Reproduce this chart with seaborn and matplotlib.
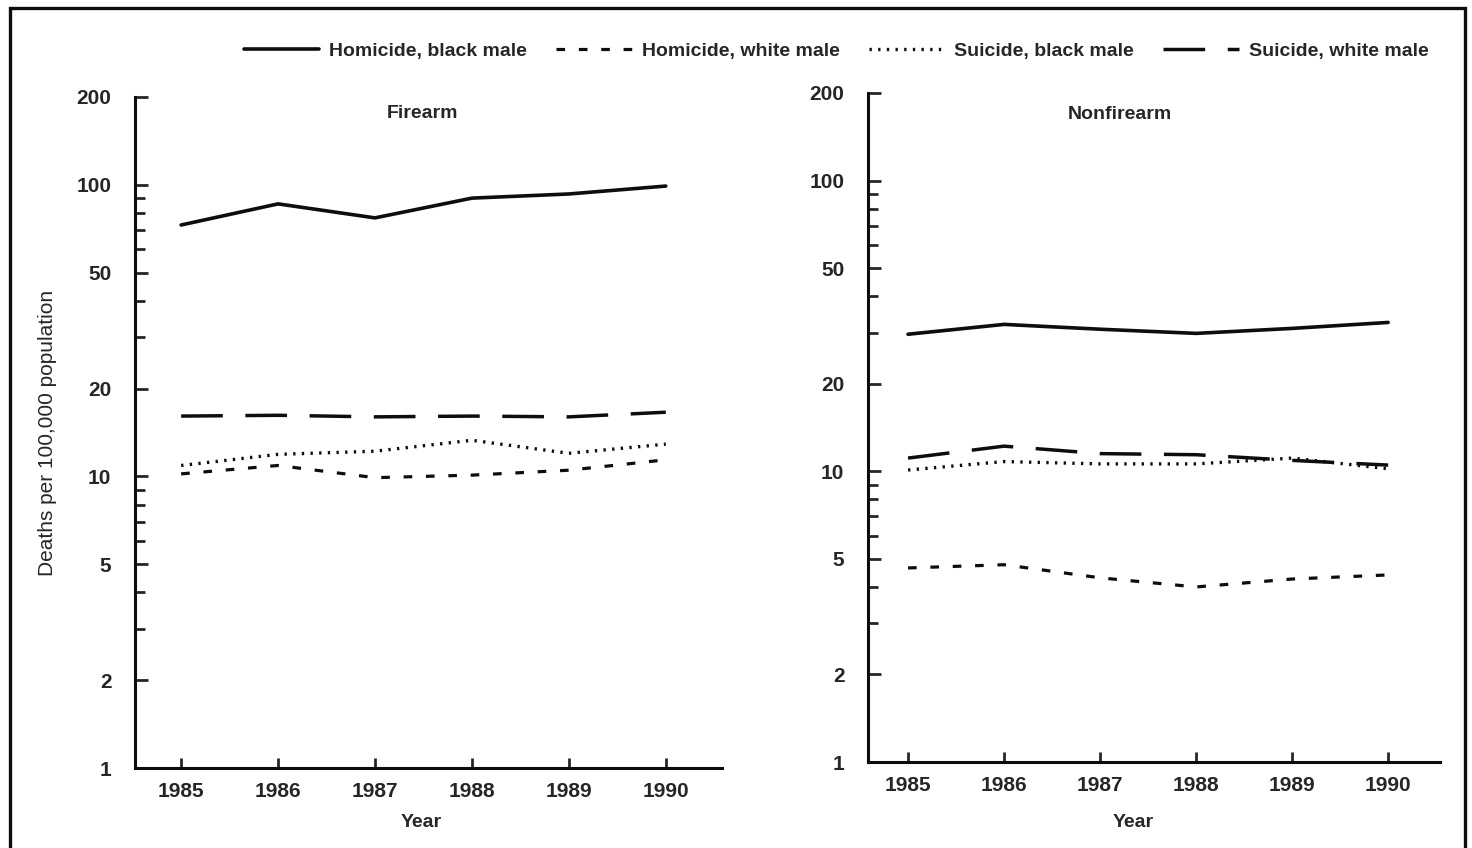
import pandas as pd
import seaborn as sns
import matplotlib.pyplot as plt
from matplotlib.patches import Rectangle
from matplotlib.ticker import FixedLocator, NullFormatter

# Data (deaths per 100,000 population, log scale)
years = [1985, 1986, 1987, 1988, 1989, 1990]
seriesNames = ['Homicide, black male', 'Homicide, white male', 'Suicide, black male', 'Suicide, white male']
# Firearm panel
fireHomBlack = [72.8, 86.0, 77.0, 90.0, 93.0, 99.0]
fireHomWhite = [10.2, 10.9, 9.9, 10.1, 10.5, 11.4]
fireSuiBlack = [10.9, 11.9, 12.2, 13.3, 12.0, 12.9]
fireSuiWhite = [16.1, 16.2, 16.0, 16.1, 16.0, 16.6]
# Nonfirearm panel
nonHomBlack = [29.6, 32.0, 30.8, 29.8, 31.0, 32.5]
nonHomWhite = [4.65, 4.77, 4.3, 4.0, 4.26, 4.4]
nonSuiBlack = [10.1, 10.8, 10.6, 10.6, 11.1, 10.2]
nonSuiWhite = [11.1, 12.2, 11.5, 11.4, 10.9, 10.5]
panelTitles = ['Firearm', 'Nonfirearm']
yTicks = [1, 2, 5, 10, 20, 50, 100, 200]
yMinor = [3, 4, 6, 7, 8, 9, 30, 40, 60, 70, 80, 90]


def longForm(vals):
    rows = []
    for name, v in zip(seriesNames, vals):
        for yr, x in zip(years, v):
            rows.append({'year': yr, 'rate': x, 'series': name})
    return pd.DataFrame(rows)


dataFire = longForm([fireHomBlack, fireHomWhite, fireSuiBlack, fireSuiWhite])
dataNon = longForm([nonHomBlack, nonHomWhite, nonSuiBlack, nonSuiWhite])

# Styles
sns.set_style('white')
plt.rcParams['font.family'] = ['Liberation Sans Narrow', 'Liberation Sans', 'DejaVu Sans']
lineCol = (0.05, 0.05, 0.05)
spLw = 2.2
tickFs = 15
dashStyles = {'Homicide, black male': '',
              'Homicide, white male': (2.7, 4.3),
              'Suicide, black male': (0.7, 1.9),
              'Suicide, white male': (12, 6.5)}
lineWidths = {'Homicide, black male': 2.6, 'Homicide, white male': 2.3,
              'Suicide, black male': 2.4, 'Suicide, white male': 2.5}

fig = plt.figure(figsize=(14.72, 8.48), dpi=100)
ax1 = fig.add_axes([135 / 1472, 1 - 768 / 848, 587 / 1472, 671 / 848])
ax2 = fig.add_axes([868 / 1472, 1 - 762 / 848, 572 / 1472, 669 / 848])

for ax, d, title, xlim, tpos in [(ax1, dataFire, panelTitles[0], (1984.524, 1990.58), (0.49, 0.975)),
                                 (ax2, dataNon, panelTitles[1], (1984.583, 1990.54), (0.44, 0.968))]:
    sns.lineplot(data=d, x='year', y='rate', style='series', style_order=seriesNames,
                 dashes=dashStyles, color=lineCol, ax=ax, legend=(ax is ax1))
    for line, name in zip(ax.get_lines(), seriesNames):
        line.set_linewidth(lineWidths[name])
    ax.set_yscale('log')
    ax.set_ylim(1, 200)
    ax.set_xlim(*xlim)
    ax.yaxis.set_major_locator(FixedLocator(yTicks))
    ax.yaxis.set_minor_locator(FixedLocator(yMinor))
    ax.yaxis.set_minor_formatter(NullFormatter())
    ax.set_yticklabels([str(t) for t in yTicks])
    ax.set_xticks(years)
    ax.set_xticklabels([str(y) for y in years])
    ax.tick_params(axis='y', which='major', direction='in', length=9, width=2, pad=17,
                   labelsize=tickFs, left=True)
    ax.tick_params(axis='y', which='minor', direction='in', length=7, width=2, left=True)
    ax.tick_params(axis='x', direction='in', length=7, width=2, pad=10, labelsize=tickFs, bottom=True)
    for lab in ax.get_xticklabels() + ax.get_yticklabels():
        lab.set_fontweight('bold')
    for s in ['top', 'right']:
        ax.spines[s].set_visible(False)
    for s in ['left', 'bottom']:
        ax.spines[s].set_linewidth(spLw)
        ax.spines[s].set_color(lineCol)
    ax.text(tpos[0], tpos[1], title, transform=ax.transAxes, ha='center', va='center',
            fontsize=14, fontweight='bold')
    ax.set_xlabel('Year', fontsize=14, fontweight='bold')
    ax.set_ylabel('')

ax1.xaxis.set_label_coords(0.487, -0.069)
ax2.xaxis.set_label_coords(0.463, -0.077)
ax1.set_ylabel('Deaths per 100,000 population', fontsize=15)
ax1.yaxis.set_label_coords(-0.133, 0.5)

# Legend across the top
handles, labels = ax1.get_legend_handles_labels()
ax1.get_legend().remove()
for h, name in zip(handles, labels):
    h.set_linewidth(lineWidths.get(name, 2.4))
fig.legend(handles, labels, loc='center', bbox_to_anchor=(0.568, 0.94), ncol=4, frameon=False,
           handlelength=3.9, columnspacing=1.5, handletextpad=0.5,
           prop={'size': 14, 'weight': 'bold'})

# Outer frame
fig.patches.append(Rectangle((10 / 1472, -0.02), 1455 / 1472, 1 - 8 / 848 + 0.02,
                             transform=fig.transFigure, fill=False, lw=2.4, ec=lineCol))

fig.savefig('out.png', dpi=100)
